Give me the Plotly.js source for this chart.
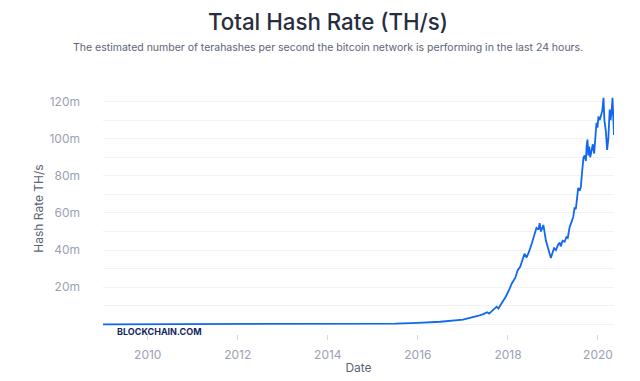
<!DOCTYPE html>
<html>
<head>
<meta charset="utf-8">
<script src="https://cdn.plot.ly/plotly-3.0.1.min.js"></script>
<style>html,body{margin:0;padding:0;background:#fff;}#chart{width:640px;height:381px;}</style>
</head>
<body>
<div id="chart"></div>
<script>
const dates = [
"2009-01-03","2010-01-01","2011-01-01","2012-01-01","2013-01-01","2013-07-01","2014-01-01","2014-07-01",
"2015-01-01","2015-07-01","2016-01-01","2016-07-01","2017-01-01","2017-03-01","2017-05-01","2017-06-15",
"2017-07-15","2017-08-01","2017-09-01","2017-10-01","2017-10-15","2017-11-15","2017-12-15","2018-01-10",
"2018-02-01","2018-03-01","2018-03-20","2018-04-10","2018-05-15","2018-06-01","2018-06-20","2018-07-15",
"2018-08-05","2018-08-20","2018-09-05","2018-09-15","2018-09-25","2018-10-05","2018-10-15","2018-11-05",
"2018-11-25","2018-12-15","2018-12-30","2019-01-10","2019-01-25","2019-02-10","2019-02-25","2019-03-05",
"2019-03-20","2019-04-05","2019-04-20","2019-05-01","2019-05-15","2019-05-25","2019-06-05","2019-06-15",
"2019-06-25","2019-07-05","2019-07-15","2019-07-25","2019-08-05","2019-08-15","2019-08-25","2019-09-05",
"2019-09-15","2019-09-25","2019-10-01","2019-10-08","2019-10-15","2019-10-22","2019-10-30","2019-11-10",
"2019-11-20","2019-12-01","2019-12-10","2019-12-20","2019-12-28","2020-01-05","2020-01-15","2020-01-25",
"2020-02-05","2020-02-15","2020-02-22","2020-03-05","2020-03-15","2020-03-25","2020-04-05","2020-04-12",
"2020-04-20","2020-04-28","2020-05-05","2020-05-10"
];
const hashRateM = [
0,0,0.00001,0.00001,0.00002,0.0003,0.01,0.15,
0.3,0.4,0.8,1.4,2.5,3.3,4.5,5.5,
6.5,5.8,7.8,9.5,8.5,11.5,15,18.5,
22,25,29,31,38,36,39,44,
49,52,51,54.5,50,52,53.5,45,
40,35.7,39,41,40,42.7,44,42,
45,44.5,47,46.5,52,54.5,56,58,
63,62,67,73.5,72,74,82,89.7,
91,88,96,99.5,91,95.7,90,94,
97,92,100,108.6,106,112,110,113,
115,122,110,104,94,100,115.7,110,
114,122,110,102
];
const yTickValsM = [0,10,20,30,40,50,60,70,80,90,100,110,120,130];
const yTickText = ["","","20m","","40m","","60m","","80m","","100m","","120m",""];

const hashRate = hashRateM.map(v => v * 1e6);
const tickVals = yTickValsM.map(v => v * 1e6);

const font = "Inter, 'Noto Sans', sans-serif";
const PL = 103, PW = 511, PB = 334, PH = 251;

Plotly.newPlot("chart", [{
  x: dates,
  y: hashRate,
  type: "scatter",
  mode: "lines",
  line: {color: "#1167f0", width: 1.8},
  hoverinfo: "skip"
}], {
  width: 640, height: 381,
  margin: {l: 103, r: 26, t: 83, b: 47},
  paper_bgcolor: "#ffffff",
  plot_bgcolor: "#ffffff",
  showlegend: false,
  font: {family: font},
  title: {
    text: "Total Hash Rate (TH/s)",
    font: {family: font, size: 22.3, color: "#272e3f", weight: 500},
    x: 328/640, xanchor: "center",
    y: 1 - 22/381, yref: "container", yanchor: "middle"
  },
  annotations: [
    {
      text: "The estimated number of terahashes per second the bitcoin network is performing in the last 24 hours.",
      xref: "paper", yref: "paper", x: (328-PL)/PW, y: (PB-48)/PH,
      xanchor: "center", yanchor: "middle", showarrow: false,
      font: {family: font, size: 10.5, color: "#5c6476"}
    },
    {
      text: "<b>BLOCKCHAIN.COM</b>",
      xref: "paper", yref: "paper", x: (115-PL)/PW, y: (PB-331)/PH,
      xanchor: "left", yanchor: "middle", showarrow: false,
      font: {family: font, size: 9, color: "#142661"}
    }
  ],
  xaxis: {
    type: "date",
    range: ["2009-01-03", "2020-05-10"],
    dtick: "M24",
    tick0: "2010-01-01",
    tickformat: "%Y",
    showgrid: false,
    zeroline: false,
    showline: false,
    ticks: "outside",
    ticklen: 5,
    tickwidth: 1,
    tickcolor: "#d4d7de",
    ticklabelstandoff: 5,
    tickfont: {family: font, size: 12, color: "#9aa1b3"},
    title: {text: "Date", font: {family: font, size: 12, color: "#5c6476"}, standoff: 2}
  },
  yaxis: {
    range: [-5.2e6, 130e6],
    tickmode: "array",
    tickvals: tickVals,
    ticktext: yTickText,
    showgrid: true,
    gridcolor: "#f1f2f4",
    gridwidth: 1,
    zeroline: false,
    showline: false,
    ticks: "",
    ticklabelstandoff: 22,
    tickfont: {family: font, size: 12, color: "#9aa1b3"},
    title: {text: "Hash Rate TH/s", font: {family: font, size: 12, color: "#5c6476"}, standoff: 3}
  }
}, {displayModeBar: false, staticPlot: true});
</script>
</body>
</html>
